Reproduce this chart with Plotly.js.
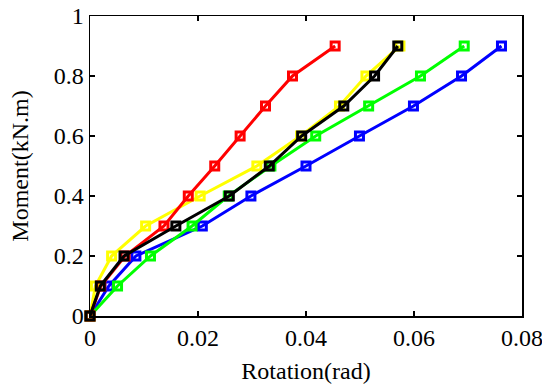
<!DOCTYPE html>
<html>
<head>
<meta charset="utf-8">
<script src="https://cdn.plot.ly/plotly-3.0.1.min.js"></script>
<style>html,body{margin:0;padding:0;background:#fff;}#chart{width:542px;height:387px;}</style>
</head>
<body>
<div id="chart"></div>
<script>
const moment = [0, 0.1, 0.2, 0.3, 0.4, 0.5, 0.6, 0.7, 0.8, 0.9];
const rotBlue   = [0, 0.0035, 0.0085, 0.0208, 0.0298, 0.0400, 0.0499, 0.0599, 0.0688, 0.0762];
const rotGreen  = [0, 0.0051, 0.0112, 0.0189, 0.0256, 0.0335, 0.0418, 0.0516, 0.0612, 0.0693];
const rotYellow = [0, 0.0010, 0.0040, 0.0103, 0.0204, 0.0309, 0.0390, 0.0462, 0.0511, 0.0574];
const rotRed    = [0, 0.0020, 0.0065, 0.0137, 0.0182, 0.0231, 0.0278, 0.0325, 0.0375, 0.0454];
const rotBlack  = [0, 0.0019, 0.0063, 0.0159, 0.0258, 0.0332, 0.0392, 0.0470, 0.0527, 0.0570];
const xTicks = [0, 0.02, 0.04, 0.06, 0.08];
const xTickText = ['0', '0.02', '0.04', '0.06', '0.08'];
const yTicks = [0, 0.2, 0.4, 0.6, 0.8, 1];
const yTickText = ['0', '0.2', '0.4', '0.6', '0.8', '1'];

function series(x, color) {
  return {
    x: x, y: moment, type: 'scatter', mode: 'lines+markers',
    line: {color: color, width: 3},
    marker: {symbol: 'square-open', size: 8, color: color, line: {color: color, width: 3}},
    cliponaxis: false, showlegend: false
  };
}
const data = [
  series(rotBlue, '#0000ff'),
  series(rotGreen, '#00ff00'),
  series(rotYellow, '#ffff00'),
  series(rotRed, '#ff0000'),
  series(rotBlack, '#000000')
];
const font = {family: 'Liberation Serif, Times New Roman, serif', size: 24, color: '#000'};
const layout = {
  width: 542, height: 387,
  margin: {l: 90, r: 20, t: 16, b: 71},
  paper_bgcolor: '#fff', plot_bgcolor: '#fff',
  font: font,
  showlegend: false,
  xaxis: {
    range: [0, 0.08], tickvals: xTicks, ticktext: xTickText,
    ticks: 'inside', ticklen: 5, tickwidth: 1.5, tickcolor: '#000',
    showline: true, linecolor: '#000', linewidth: 1.5, mirror: 'ticks',
    showgrid: false, zeroline: false, ticklabeloverflow: 'allow', automargin: false,
    tickfont: font,
    title: {text: 'Rotation(rad)', font: font, standoff: 12}
  },
  yaxis: {
    range: [0, 1], tickvals: yTicks, ticktext: yTickText,
    ticks: 'inside', ticklen: 5, tickwidth: 1.5, tickcolor: '#000',
    showline: true, linecolor: '#000', linewidth: 1.5, mirror: 'ticks',
    showgrid: false, zeroline: false, ticklabeloverflow: 'allow', automargin: false,
    tickfont: font,
    title: {text: 'Moment(kN.m)', font: font, standoff: 18}
  }
};
Plotly.newPlot('chart', data, layout, {staticPlot: true, displayModeBar: false});
</script>
</body>
</html>
